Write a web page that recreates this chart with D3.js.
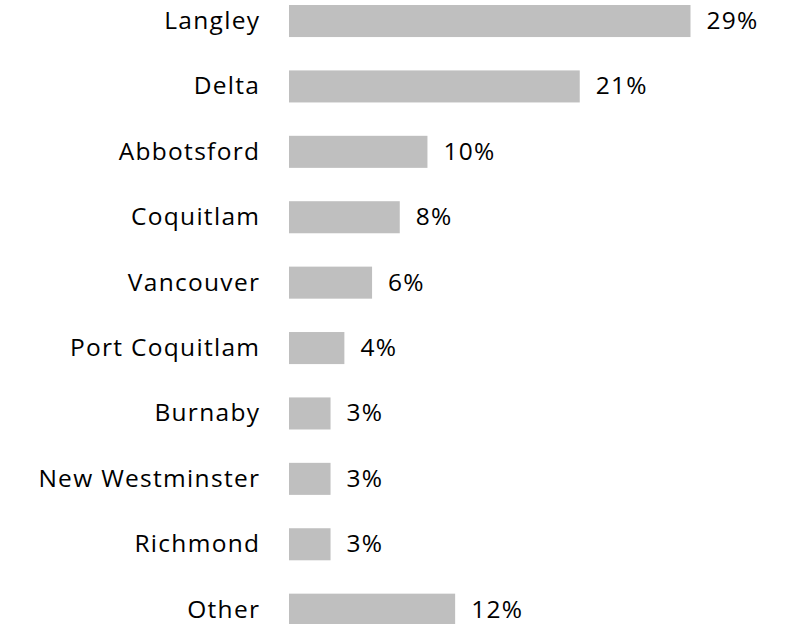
<!DOCTYPE html>
<html>
<head>
<meta charset="utf-8">
<script src="https://cdn.jsdelivr.net/npm/d3@7"></script>
<style>
  html, body { margin: 0; padding: 0; background: #fff; }
  text { font-family: "Open Sans", sans-serif; fill: #000; }
</style>
</head>
<body>
<svg id="chart" width="788" height="624"></svg>
<script>
// Share of respondents by municipality
const cities = ["Langley", "Delta", "Abbotsford", "Coquitlam", "Vancouver",
                "Port Coquitlam", "Burnaby", "New Westminster", "Richmond", "Other"];
const shares = [29, 21, 10, 8, 6, 4, 3, 3, 3, 12];
const valueLabels = ["29%", "21%", "10%", "8%", "6%", "4%", "3%", "3%", "3%", "12%"];

const svg = d3.select("#chart");
const fontSize = 24.5;
const spacing = 1.3;

const x = d3.scaleLinear().domain([0, 29]).range([289, 690.5]);
const y = d3.scaleBand().domain(cities).range([5, 625.7]).paddingInner(0.51).paddingOuter(0);

const rows = svg.selectAll("g.row")
  .data(cities.map((c, i) => ({ city: c, value: shares[i], label: valueLabels[i] })))
  .join("g").attr("class", "row");

rows.append("rect")
  .attr("x", x(0))
  .attr("y", d => y(d.city))
  .attr("width", d => x(d.value) - x(0))
  .attr("height", y.bandwidth())
  .attr("fill", "#bfbfbf");

rows.append("text")
  .attr("x", 259 + spacing)
  .attr("y", d => y(d.city) + y.bandwidth() / 2 + 8)
  .attr("text-anchor", "end")
  .attr("font-size", fontSize)
  .attr("letter-spacing", spacing)
  .text(d => d.city);

rows.append("text")
  .attr("x", d => x(d.value) + 16)
  .attr("y", d => y(d.city) + y.bandwidth() / 2 + 8)
  .attr("font-size", fontSize)
  .attr("letter-spacing", spacing)
  .text(d => d.label);
</script>
</body>
</html>
